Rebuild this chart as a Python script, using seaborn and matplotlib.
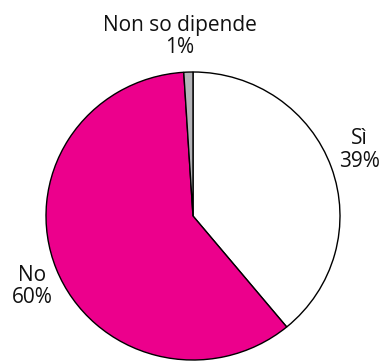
import matplotlib
matplotlib.use("Agg")
import matplotlib.pyplot as plt
import seaborn as sns

categories = ["Sì", "No", "Non so dipende"]
values = [39, 60, 1]
colors = ["#FFFFFF", "#EC008C", "#B4B4B8"]

sns.set_theme(style="white")
plt.rcParams["font.family"] = ["Open Sans", "DejaVu Sans"]

fig = plt.figure(figsize=(3.84, 3.62), dpi=100)
ax = fig.add_axes([0.1198, 0.0055, 0.7656, 0.7956])
ax.pie(values, colors=colors, startangle=90, counterclock=False,
       wedgeprops=dict(edgecolor="black", linewidth=1.0))
ax.set_aspect("auto")
ax.set_xlim(-1.0, 1.0)
ax.set_ylim(-1.0, 1.0)
ax.axis("off")

label_pos = {
    "Sì": (0.937, 0.586),
    "No": (0.083, 0.209),
    "Non so dipende": (0.469, 0.899),
}
for cat, val in zip(categories, values):
    x, y = label_pos[cat]
    fig.text(x, y, f"{cat}\n{val}%", ha="center", va="center",
             fontsize=15, color="#111111", linespacing=1.1)

fig.savefig("out.png", dpi=100)
